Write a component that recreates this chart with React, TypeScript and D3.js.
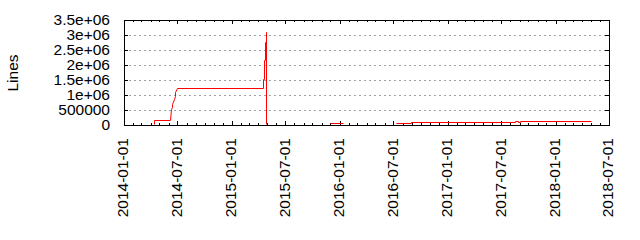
import React from "react";
import * as d3 from "d3";

const dates: string[] = [
  "2014-04-13", "2014-04-13", "2014-06-05", "2014-06-08", "2014-06-11", "2014-06-14",
  "2014-06-18", "2014-06-21", "2014-06-24", "2014-06-28", "2015-04-17", "2015-04-17",
  "2015-04-21", "2015-04-21", "2015-04-24", "2015-04-24", "2015-04-26", "2015-04-26",
  "2015-04-27", "2015-04-27",
  "2015-06-01",
  "2015-11-29", "2016-01-13",
  "2016-03-01",
  "2016-07-09", "2016-08-28", "2016-08-28", "2017-08-16", "2017-08-16", "2017-08-26",
  "2017-08-26", "2017-09-04", "2017-09-04", "2018-04-30",
];
const values: (number | null)[] = [
  0, 150000, 150000, 500000, 580000, 670000,
  830000, 930000, 1070000, 1200000, 1200000, 1500000,
  1500000, 2140000, 2140000, 2740000, 2740000, 3080000,
  3080000, 0,
  null,
  33000, 33000,
  null,
  25000, 25000, 60000, 60000, 100000, 100000,
  60000, 60000, 90000, 90000,
];
const yTicks: number[] = [0, 500000, 1000000, 1500000, 2000000, 2500000, 3000000, 3500000];
const yTickLabels: string[] = ["0", "500000", "1e+06", "1.5e+06", "2e+06", "2.5e+06", "3e+06", "3.5e+06"];
const xTickLabels: string[] = [
  "2014-01-01", "2014-07-01", "2015-01-01", "2015-07-01", "2016-01-01",
  "2016-07-01", "2017-01-01", "2017-07-01", "2018-01-01", "2018-07-01",
];
const yLabel = "Lines";

const parse = d3.utcParse("%Y-%m-%d");

export default function App() {
  const left = 124, right = 609, top = 20, bottom = 125;
  const x = d3.scaleUtc()
    .domain([parse("2014-01-01")!, parse("2018-07-01")!])
    .range([left, right]);
  const y = d3.scaleLinear().domain([0, 3500000]).range([bottom, top]);

  const pts = dates.map((d, i) => ({ d: parse(d)!, v: values[i] }));
  const line = d3.line<{ d: Date; v: number | null }>()
    .defined((p) => p.v !== null)
    .x((p) => Math.round(x(p.d)) + 0.5)
    .y((p) => Math.round(y(p.v as number)) - 0.5);

  const minor = d3.utcMonth.range(parse("2014-01-01")!, parse("2018-07-02")!);
  const font = "'Liberation Sans', Arial, sans-serif";
  const fs = 15.5;

  return (
    <svg width={640} height={240} style={{ position: "absolute", left: 0, top: 0, background: "#fff" }}>
      <rect x={0} y={0} width={640} height={240} fill="#fff" />
      {yTicks.slice(1, -1).map((t) => (
        <line key={"g" + t} x1={left} x2={right} y1={Math.round(y(t)) + 0.5} y2={Math.round(y(t)) + 0.5}
          stroke="#a0a0a0" strokeWidth={1} strokeDasharray="2,3" />
      ))}
      {minor.map((m, i) => {
        const xx = Math.round(x(m)) + 0.5;
        const major = m.getUTCMonth() % 6 === 0;
        const len = major ? 4 : 2;
        return (
          <g key={"m" + i}>
            <line x1={xx} x2={xx} y1={bottom} y2={bottom - len} stroke="#000" />
            <line x1={xx} x2={xx} y1={top} y2={top + len} stroke="#000" />
          </g>
        );
      })}
      {yTicks.map((t) => {
        const yy = Math.round(y(t)) + 0.5;
        return (
          <g key={"y" + t}>
            <line x1={left} x2={left + 4} y1={yy} y2={yy} stroke="#000" />
            <line x1={right} x2={right - 4} y1={yy} y2={yy} stroke="#000" />
          </g>
        );
      })}
      <path d={line(pts) || ""} fill="none" stroke="#ff0000" strokeWidth={1} />
      <rect x={left + 0.5} y={top + 0.5} width={right - left} height={bottom - top}
        fill="none" stroke="#000" strokeWidth={1} />
      {yTicks.map((t, i) => (
        <text key={"yl" + t} x={110} y={y(t)} dy="0.35em" textAnchor="end"
          fontFamily={font} fontSize={fs} fill="#000">{yTickLabels[i]}</text>
      ))}
      {xTickLabels.map((l) => {
        const xx = x(parse(l)!);
        return (
          <text key={"xl" + l} transform={`translate(${xx - 1},138) rotate(-90)`} dy="0.35em"
            textAnchor="end" fontFamily={font} fontSize={fs} fill="#000">{l}</text>
        );
      })}
      <text transform={`translate(13,73) rotate(-90)`} dy="0.35em" textAnchor="middle"
        fontFamily={font} fontSize={fs} fill="#000">{yLabel}</text>
    </svg>
  );
}
